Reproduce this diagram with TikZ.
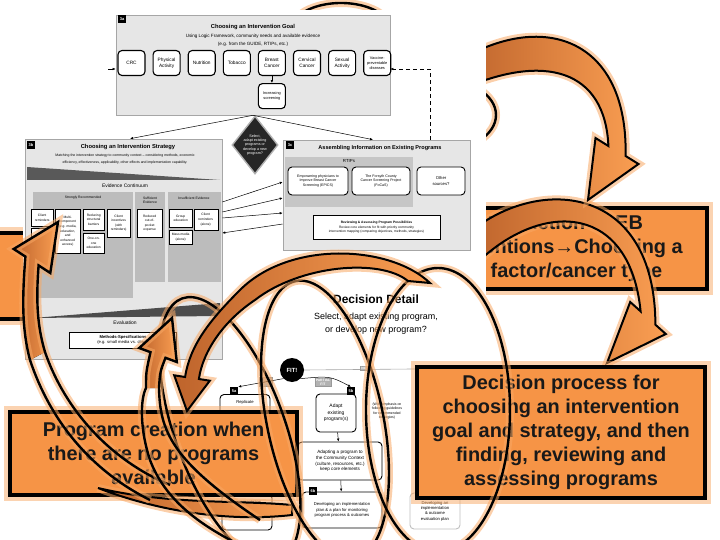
\documentclass[tikz,border=0pt]{standalone}
\usepackage{fontspec}
\setmainfont{Liberation Sans}
\usetikzlibrary{shapes.geometric, arrows.meta, positioning}
\definecolor{boxorange}{RGB}{246,148,70}
\definecolor{arrowdark}{RGB}{190,100,44}
\definecolor{arrowlight}{RGB}{250,158,82}
\definecolor{glowc}{RGB}{248,168,100}
\definecolor{panelgray}{RGB}{230,230,230}
\definecolor{colgray}{RGB}{188,188,188}
\newcommand{\tsz}[2]{\fontsize{#1}{#2}\selectfont}
\tikzset{
  glow/.style={preaction={draw=glowc, line width=8bp, draw opacity=0.55}, draw=black, line width=2.4bp},
  obox/.style={draw=black, line width=3.6bp, fill=boxorange, preaction={draw=glowc, line width=12bp, draw opacity=0.5},
    align=center, inner sep=0, text=black!90, font=\bfseries\tsz{20}{24}},
  bandfill/.style={left color=arrowdark, right color=arrowlight, glow, line width=2bp},
  panel/.style={draw=gray!70, fill=panelgray, line width=0.6bp, inner sep=0},
  tag/.style={fill=black, text=white, font=\bfseries\tsz{4}{4}, inner sep=1bp, minimum size=8bp},
  goalbox/.style={draw=black, fill=white, rounded corners=4bp, line width=1.1bp, minimum width=27bp,
    minimum height=25bp, align=center, font=\tsz{4.8}{5.6}, inner sep=0},
  evbox/.style={draw=black, fill=white, line width=0.4bp, align=center, font=\tsz{3.3}{4.6}, inner sep=0.5bp, anchor=north west},
  progbox/.style={draw=black, fill=white, rounded corners=4bp, line width=0.9bp, align=center, font=\tsz{4.2}{5.4}, inner sep=1bp},
  link/.style={-{Latex[length=3bp,width=2.5bp]}, line width=0.5bp},
  sel/.style={draw=gray!60, fill=black!85, line width=1.4bp, diamond, aspect=0.8, text=white, font=\tsz{3.7}{4.4}, align=center, inner sep=0.5bp},
  graylab/.style={fill=gray!60, draw=gray!80, text=white, font=\bfseries\tsz{3.4}{3.8}, inner sep=1bp, align=center}
}

\begin{document}
\begin{tikzpicture}[x=1bp, y=-1bp]
\useasboundingbox (0,0) rectangle (720,540);

\node[obox, minimum width=302bp, minimum height=81bp] (intro) at (556,248.5) {Introduction to EB\\Interventions→Choosing a\\risk factor/cancer type};
\node[obox, minimum width=120bp, minimum height=86bp] (side) at (-30,276) {};

\path[bandfill] (470,232) .. controls (540,175) and (655,185) .. (655.4,324.7) -- (665.8,334) -- (607,363) -- (630.2,302) -- (640.6,311.3) .. controls (630,205) and (545,200) .. (480,260) -- cycle;
\path[bandfill] (460,60) .. controls (545,10) and (628,40) .. (625.6,156) -- (638.5,164) -- (588,200) -- (595.5,138) -- (608.4,146) .. controls (605,70) and (545,52) .. (460,90) -- cycle;
\draw[glow] (296,18) .. controls (316,-2) and (366,-2) .. (386,18);
\draw[glow] (440,115) ellipse [x radius=56bp, y radius=36bp];

\fill[white] (108,10) rectangle (486,125);
\fill[white] (23,125) rectangle (486,362);

\node[panel, minimum width=274bp, minimum height=100bp] (goal) at (253,65) {};
\node[tag] (tag3a) at (122,19) {3a};
\node[font=\bfseries\tsz{5.8}{6}] (goalt) at (253,27) {Choosing an Intervention Goal};
\node[font=\tsz{4.6}{7.5}, align=center] (goals) at (253,40.5) {Using Logic Framework, community needs and available evidence\\(e.g. from the GUIDE, RTIPs, etc.)};
\node[goalbox] (crc) at (131.5,63) {CRC};
\node[goalbox, right=7bp of crc] (phys) {Physical\\Activity};
\node[goalbox, right=7bp of phys] (nutr) {Nutrition};
\node[goalbox, right=7bp of nutr] (tob) {Tobacco};
\node[goalbox, right=7bp of tob] (breast) {Breast\\Cancer};
\node[goalbox, right=7bp of breast] (cerv) {Cervical\\Cancer};
\node[goalbox, right=7bp of cerv] (sex) {Sexual\\Activity};
\node[goalbox, right=7bp of sex, font=\tsz{3.9}{4.7}] (vacc) {Vaccine-\\preventable\\diseases};
\node[goalbox, below=7bp of breast, font=\tsz{3.9}{4.7}] (screen) {Increasing\\screening};
\draw[link] (breast) -- (screen);
\coordinate (dashc) at (430,69);
\coordinate (leftin) at (108,69);
\draw[link] (leftin) -- (goal.west |- leftin);

\node[panel, minimum width=197bp, minimum height=220bp] (strat) at (123.5,249) {};
\node[tag] (tag3b) at (31,145) {3b};
\node[font=\bfseries\tsz{5.8}{6}] (stratt) at (128,147) {Choosing an Intervention Strategy};
\node[font=\tsz{3.5}{6.5}, align=center] (strats) at (125,159) {Matching the intervention strategy to community context -- considering methods, economic\\efficiency, effectiveness, applicability, other effects and implementation capability.};
\fill[black!65] (27,167) -- (220,180) -- (27,180) -- cycle;
\node[font=\tsz{5}{6}] (evc) at (125,186) {Evidence Continuum};
\node[fill=colgray, minimum width=100bp, minimum height=106bp, inner sep=0] (strong) at (83,245) {};
\node[fill=colgray, minimum width=30bp, minimum height=90bp, inner sep=0] (suff) at (150,237) {};
\node[fill=colgray, minimum width=53bp, minimum height=90bp, inner sep=0] (insuff) at (194,237) {};
\node[font=\tsz{3.4}{4.2}] at (83,198) {Strongly Recommended};
\node[font=\tsz{3.4}{4.2}, align=center] at (150,200) {Sufficient\\Evidence};
\node[font=\tsz{3.4}{4.2}] at (194,198) {Insufficient Evidence};
\node[evbox, minimum width=22bp, minimum height=17bp] (rem) at (31,209) {Client\\reminders};
\node[evbox, minimum width=22bp, minimum height=12bp] (remb) at (31,228) {};
\node[evbox, minimum width=25bp, minimum height=44bp] (multi) at (55,209) {Multi-\\component\\(e.g. media,\\education,\\and\\enhanced\\access)};
\node[evbox, minimum width=21bp, minimum height=21bp] (barr) at (83,209) {Reducing\\structural\\barriers};
\node[evbox, minimum width=21bp, minimum height=20bp] (one) at (83,233) {One-on-\\one\\education};
\node[evbox, minimum width=23bp, minimum height=28bp] (inc) at (107,209) {Client\\incentives\\(with\\reminders)};
\node[evbox, minimum width=25bp, minimum height=28bp] (pocket) at (137,209) {Reduced\\out-of-\\pocket\\expense};
\node[evbox, minimum width=23bp, minimum height=18bp] (group) at (169,209) {Group\\education};
\node[evbox, minimum width=24bp, minimum height=21bp] (alone) at (193.5,209) {Client\\reminders\\(alone)};
\node[evbox, minimum width=23bp, minimum height=14bp] (mass) at (169,230) {Mass media\\(alone)};
\fill[black!70] (33,318) -- (220,303) -- (220,316) -- cycle;
\node[font=\tsz{5}{6}] (evalt) at (125,323) {Evaluation};
\node[draw, fill=white, font=\tsz{4.2}{5.4}, align=center, minimum width=107bp, minimum height=16bp, inner sep=0.5bp] (meth) at (123,340) {\textbf{Methods-Specifications}\\(e.g. small media vs. client)};

\node[panel, minimum width=187bp, minimum height=110bp] (assem) at (376.5,195) {};
\node[tag] (tag3c) at (290,145) {3c};
\node[font=\bfseries\tsz{5.6}{6}] (assemt) at (380,148) {Assembling Information on Existing Programs};
\node[fill=colgray!85, minimum width=128bp, minimum height=50bp, inner sep=0] (rtips) at (349,182) {};
\node[font=\tsz{4.4}{5}] at (349,161) {RTIPs};
\node[progbox, minimum width=60bp, minimum height=28bp, font=\tsz{3.6}{4.6}] (epics) at (318,181) {Empowering physicians to\\Improve Breast Cancer\\Screening (EPICS)};
\node[progbox, minimum width=58bp, minimum height=28bp, font=\tsz{3.6}{4.6}] (focas) at (381,181) {The Forsyth County\\Cancer Screening Project\\(FoCaS)};
\node[progbox, minimum width=48bp, minimum height=28bp] (other) at (441,181) {Other\\sources?};
\node[draw, fill=white, align=center, minimum width=127bp, minimum height=24bp, inner sep=0.5bp, font=\tsz{3.3}{4.4}] (review) at (376.5,227.5) {\textbf{Reviewing \& Assessing Program Possibilities}\\Review core elements for fit with priority community\\intervention mapping (comparing objectives, methods, strategies)};

\node[sel, minimum width=46bp, minimum height=58bp] (select) at (255,145) {Select,\\adapt existing\\programs or\\develop a new\\program?};
\draw[link] (goal.south) -- (strat.north -| 130,0);
\draw[link] (goal.south) -- (assem.north -| 373,0);
\draw[link, dash pattern=on 4bp off 3bp] (assem.north -| dashc) |- (goal.east |- dashc);
\draw[link] (strat.east |- 0,202) -- (assem.west |- 0,182);
\draw[link] (strat.east |- 0,212) -- (assem.west |- 0,198);
\draw[link] (strat.east |- 0,218) -- (assem.west |- 0,213);
\draw[link] (assem.west |- 0,224) -- (strat.east |- 0,233);

\node[font=\bfseries\tsz{12}{14}] (dd) at (376,299) {Decision Detail};
\node[font=\tsz{9}{13}, align=center] (ddsub) at (376,323.5) {Select, adapt existing program,\\or develop new program?};
\node[circle, fill=black, text=white, font=\bfseries\tsz{6}{6}, minimum size=24bp, inner sep=0] (fit) at (292,370) {FIT!};
\draw[line width=0.6bp, gray!70] (fit.east) -- (520,368);
\node[graylab] (nolab) at (364,368) {NO};
\node[graylab] (partial) at (323,382) {PARTIAL\\FIT};
\node[graylab, minimum width=13bp, minimum height=9bp] (yeslab) at (266,382) {};
\node[progbox, minimum width=50bp, minimum height=55bp] (repl) at (245,422) {};
\node[font=\tsz{4.2}{5}, below=3bp of repl.north] (replt) {Replicate};
\node[tag] (tag5a) at (234,391) {5a};
\node[progbox, minimum width=40bp, minimum height=38bp, font=\tsz{5}{6.4}] (adapt) at (336,413) {Adapt\\existing\\program(s)};
\node[tag] (tag5b) at (351,391) {5b};
\node[font=\tsz{3.5}{4.3}, align=center] (emph) at (387,411) {(With emphasis on\\following guidelines\\for recommended\\strategies)};
\node[progbox, minimum width=84bp, minimum height=38bp, font=\tsz{4.6}{5.8}] (ctx) at (340,461) {Adapting a program to\\the Community Context\\(culture, resources, etc.)\\keep core elements};
\node[progbox, minimum width=80bp, minimum height=36bp] (plan) at (342,510) {Developing an implementation\\plan \& a plan for monitoring\\program process \& outcomes};
\node[tag] (tag6b) at (313,491) {6b};
\node[progbox, draw=gray!50, minimum width=50bp, minimum height=36bp] (evalplan) at (435,511) {Developing an\\implementation\\\& outcome\\evaluation plan};
\node[progbox, minimum width=50bp, minimum height=36bp] (impl) at (247,512) {};
\node[font=\tsz{4.2}{5}, below=3bp of impl.north] (implt) {Implementation};
\draw[link] (fit.south west) -- (tag5a.north east);
\draw[link] (fit.south east) .. controls (330,376) .. (tag5b.north);
\draw[link] (adapt) -- (ctx);
\draw[link] (ctx) -- (plan);

\node[obox, minimum width=287bp, minimum height=83bp] (progc) at (153.5,453.5) {Program creation when\\there are no programs\\available};
\node[obox, minimum width=288bp, minimum height=131bp] (decp) at (561,432.5) {Decision process for\\choosing an intervention\\goal and strategy, and then\\finding, reviewing and\\assessing programs};

\path[bandfill] (98,488) .. controls (170,505) and (240,500) .. (292,505) -- (292,515) .. controls (230,522) and (160,512) .. (98,488) -- cycle;
\draw[glow, rotate around={20:(230,430)}] (230,430) ellipse [x radius=55bp, y radius=140bp];
\draw[glow, rotate around={12:(325,420)}] (325,420) ellipse [x radius=58bp, y radius=142bp];
\draw[glow] (438,410) ellipse [x radius=72bp, y radius=142bp];

\fill[left color=arrowdark, right color=arrowlight] (30,360) .. controls (22,330) and (22,300) .. (25.4,256.6) -- (13.7,249) -- (58,222) -- (50.3,273) -- (38.6,265.4) .. controls (36,300) and (37,325) .. (45,352) -- cycle;
\draw[glow] (150,500) .. controls (90,470) and (50,420) .. (30,360) .. controls (22,330) and (22,300) .. (25.4,256.6) -- (13.7,249) -- (58,222) -- (50.3,273) -- (38.6,265.4) .. controls (36,300) and (37,325) .. (45,352) .. controls (65,410) and (110,460) .. (170,485);
\fill[left color=arrowdark, right color=arrowlight] (146,388) .. controls (146,372) .. (150.5,352.2) -- (139.2,348) -- (172,318) -- (176.8,362) -- (165.5,357.8) .. controls (160,372) .. (159,388) -- cycle;
\draw[glow] (240,545) .. controls (200,525) and (165,500) .. (150,460) .. controls (140,430) and (140,400) .. (146,388) .. controls (146,372) .. (150.5,352.2) -- (139.2,348) -- (172,318) -- (176.8,362) -- (165.5,357.8) .. controls (160,372) .. (159,388) .. controls (160,430) and (170,460) .. (260,520);
\path[bandfill] (430,283) .. controls (390,245) and (290,240) .. (240,290) .. controls (210,320) and (190,345) .. (185.1,377) -- (174.2,375.3) -- (187,411) -- (209.8,380.7) -- (198.9,379) .. controls (203,350) and (225,320) .. (255,300) .. controls (300,265) and (380,258) .. (408,281) -- cycle;
\end{tikzpicture}
\end{document}
